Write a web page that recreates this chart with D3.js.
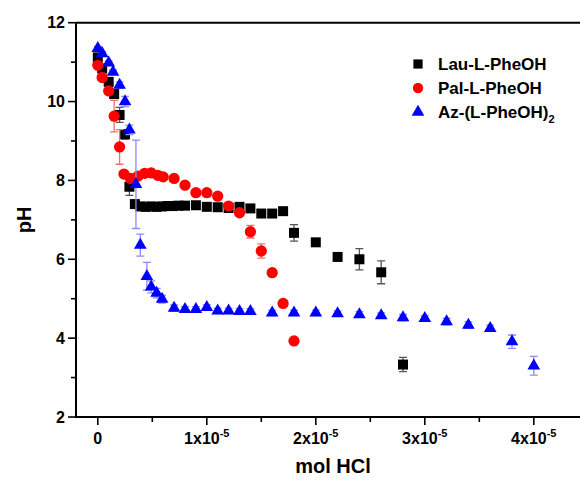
<!DOCTYPE html>
<html>
<head>
<meta charset="utf-8">
<script src="https://cdn.jsdelivr.net/npm/d3@7"></script>
<style>
  html, body { margin: 0; padding: 0; background: #fff; }
  svg { display: block; font-family: Arial, "Liberation Sans", sans-serif; }
</style>
</head>
<body>
<svg id="chart" width="580" height="485"></svg>
<script>
// Titration of three phenylalanine derivatives with HCl.
// Amounts of acid are given in units of 1e-5 mol.

// Lau-L-PheOH
const lauMol = [0, 0.04, 0.1, 0.15, 0.2, 0.25, 0.29, 0.34, 0.39, 0.44, 0.49, 0.54, 0.59, 0.64, 0.69, 0.74,
                0.8, 0.9, 1.0, 1.1, 1.2, 1.3, 1.4, 1.5, 1.6, 1.7, 1.8, 2.0, 2.2, 2.4, 2.6, 2.8];
const lauPH  = [11.12, 10.84, 10.50, 10.19, 9.66, 9.17, 7.84, 7.40, 7.34, 7.33, 7.34, 7.33, 7.34, 7.35, 7.35, 7.36,
                7.36, 7.37, 7.33, 7.32, 7.30, 7.33, 7.29, 7.16, 7.16, 7.22, 6.67, 6.43, 6.06, 6.00, 5.67, 3.33];
const lauErr = [0.05, 0.05, 0.05, 0.08, 0.19, 0.12, 0.22, 0.05, 0.03, 0.03, 0.03, 0.03, 0.03, 0.03, 0.03, 0.03,
                0.03, 0.03, 0.03, 0.03, 0.03, 0.03, 0.03, 0.04, 0.04, 0.04, 0.21, 0.05, 0.05, 0.27, 0.29, 0.18];

// Pal-L-PheOH
const palMol = [0, 0.04, 0.1, 0.15, 0.2, 0.24, 0.3, 0.37, 0.43, 0.49, 0.55, 0.6, 0.7,
                0.8, 0.9, 1.0, 1.1, 1.2, 1.3, 1.4, 1.5, 1.6, 1.7, 1.8];
const palPH  = [10.92, 10.61, 10.27, 9.63, 8.85, 8.16, 8.05, 8.11, 8.18, 8.19, 8.13, 8.09, 8.05,
                7.88, 7.69, 7.69, 7.60, 7.35, 7.18, 6.70, 6.21, 5.66, 4.88, 3.93];
const palErr = [0.05, 0.05, 0.05, 0.40, 0.44, 0.05, 0.05, 0.04, 0.04, 0.04, 0.04, 0.04, 0.04,
                0.04, 0.04, 0.04, 0.04, 0.06, 0.04, 0.16, 0.18, 0.06, 0.08, 0.04];

// Az-(L-PheOH)2
const azMol = [0, 0.04, 0.1, 0.14, 0.2, 0.25, 0.29, 0.35, 0.39, 0.45, 0.49, 0.54, 0.59, 0.7,
               0.8, 0.9, 1.0, 1.1, 1.2, 1.3, 1.4, 1.6, 1.8, 2.0, 2.2, 2.4, 2.6, 2.8, 3.0, 3.2, 3.4, 3.6, 3.8, 4.0];
const azPH  = [11.35, 11.22, 10.98, 10.75, 10.42, 10.00, 9.28, 7.90, 6.36, 5.57, 5.30, 5.14, 4.99, 4.76,
               4.73, 4.73, 4.78, 4.69, 4.69, 4.68, 4.68, 4.64, 4.64, 4.64, 4.62, 4.60, 4.57, 4.52, 4.50, 4.42, 4.33, 4.25, 3.91, 3.30];
const azErr = [0.05, 0.05, 0.05, 0.05, 0.08, 0.13, 0.12, 1.12, 0.28, 0.35, 0.15, 0.12, 0.10, 0.08,
               0.07, 0.07, 0.07, 0.07, 0.07, 0.07, 0.07, 0.07, 0.07, 0.07, 0.07, 0.07, 0.07, 0.08, 0.07, 0.08, 0.08, 0.08, 0.17, 0.24];

// Axis ticks
const xMajor = [0, 1, 2, 3, 4];
const xMinor = [0.5, 1.5, 2.5, 3.5];
const yMajor = [2, 4, 6, 8, 10, 12];
const yMinor = [3, 5, 7, 9, 11];

const seriesNames = ["Lau-L-PheOH", "Pal-L-PheOH", "Az-(L-PheOH)"];

const svg = d3.select("#chart");

const x = d3.scaleLinear().domain([-0.2, 4.5]).range([76, 588.3]);
const y = d3.scaleLinear().domain([2, 12]).range([417, 22.7]);

const series = [
  { name: seriesNames[0], mol: lauMol, ph: lauPH, err: lauErr, color: "#000000", bar: "#555555",
    symbol: d3.symbolSquare, size: 100 },
  { name: seriesNames[1], mol: palMol, ph: palPH, err: palErr, color: "#ff0000", bar: "#f07070",
    symbol: d3.symbolCircle, size: 100 },
  { name: seriesNames[2], mol: azMol, ph: azPH, err: azErr, color: "#0000ff", bar: "#8c8cf4",
    symbol: d3.symbolTriangle, size: 70 }
];

// Frame: top edge
svg.append("line")
  .attr("x1", x.range()[0]).attr("x2", 580)
  .attr("y1", y(12)).attr("y2", y(12))
  .attr("stroke", "#000").attr("stroke-width", 2);

// X axis
const xAxis = svg.append("g").attr("transform", `translate(0,${y(2)})`);
xAxis.append("line")
  .attr("x1", x.range()[0] - 1).attr("x2", 580)
  .attr("stroke", "#000").attr("stroke-width", 2);
xAxis.selectAll(".xmaj").data(xMajor).join("line")
  .attr("x1", d => x(d)).attr("x2", d => x(d)).attr("y1", 0).attr("y2", 8)
  .attr("stroke", "#000").attr("stroke-width", 1.6);
xAxis.selectAll(".xmin").data(xMinor).join("line")
  .attr("x1", d => x(d)).attr("x2", d => x(d)).attr("y1", 0).attr("y2", 5)
  .attr("stroke", "#000").attr("stroke-width", 1.6);
const xLab = xAxis.selectAll(".xlab").data(xMajor).join("text")
  .attr("x", d => x(d)).attr("y", 27)
  .attr("text-anchor", "middle")
  .attr("font-size", 16).attr("font-weight", "bold");
xLab.each(function (d) {
  const t = d3.select(this);
  if (d === 0) { t.text("0"); return; }
  t.append("tspan").text(d + "x10");
  t.append("tspan").attr("dy", -7).attr("font-size", 11).text("-5");
});

// Y axis
const yAxis = svg.append("g").attr("transform", `translate(${x.range()[0]},0)`);
yAxis.append("line")
  .attr("y1", y(12)).attr("y2", y(2) + 1)
  .attr("stroke", "#000").attr("stroke-width", 2);
yAxis.selectAll(".ymaj").data(yMajor).join("line")
  .attr("x1", -8).attr("x2", 0).attr("y1", d => y(d)).attr("y2", d => y(d))
  .attr("stroke", "#000").attr("stroke-width", 1.6);
yAxis.selectAll(".ymin").data(yMinor).join("line")
  .attr("x1", -5).attr("x2", 0).attr("y1", d => y(d)).attr("y2", d => y(d))
  .attr("stroke", "#000").attr("stroke-width", 1.6);
yAxis.selectAll(".ylab").data(yMajor).join("text")
  .attr("x", -11).attr("y", d => y(d)).attr("dy", "0.36em")
  .attr("text-anchor", "end")
  .attr("font-size", 16).attr("font-weight", "bold")
  .text(d => d);

// Axis titles
svg.append("text")
  .attr("transform", `translate(31,${(y(2) + y(12)) / 2}) rotate(-90)`)
  .attr("text-anchor", "middle")
  .attr("font-size", 20).attr("font-weight", "bold")
  .text("pH");
svg.append("text")
  .attr("x", 333).attr("y", 473)
  .attr("text-anchor", "middle")
  .attr("font-size", 20).attr("font-weight", "bold")
  .text("mol HCl");

// Data: error bars then markers, series by series
const capW = 4;
series.forEach(s => {
  const pts = s.mol.map((m, i) => ({ m, p: s.ph[i], e: s.err[i] }));
  const g = svg.append("g");
  const eb = g.append("g").attr("stroke", s.bar).attr("stroke-width", 1.3).attr("fill", "none");
  eb.selectAll("path").data(pts).join("path")
    .attr("d", d => {
      const cx = x(d.m), y1 = y(d.p + d.e), y2 = y(d.p - d.e);
      return `M${cx},${y1}V${y2}M${cx - capW},${y1}H${cx + capW}M${cx - capW},${y2}H${cx + capW}`;
    });
  g.append("g").selectAll("path").data(pts).join("path")
    .attr("transform", d => `translate(${x(d.m)},${y(d.p)})`)
    .attr("d", d3.symbol().type(s.symbol).size(s.size)())
    .attr("fill", s.color);
});

// Legend
const legend = svg.append("g").attr("transform", "translate(418,64)");
series.forEach((s, i) => {
  const row = legend.append("g").attr("transform", `translate(0,${i * 24})`);
  row.append("path")
    .attr("d", d3.symbol().type(s.symbol).size(i === 2 ? 70 : 85)())
    .attr("fill", s.color);
  const t = row.append("text")
    .attr("x", 20).attr("y", 0).attr("dy", "0.36em")
    .attr("font-size", 17).attr("font-weight", "bold");
  t.append("tspan").text(s.name);
  if (i === 2) t.append("tspan").attr("dy", 5).attr("font-size", 11).text("2");
});
</script>
</body>
</html>
